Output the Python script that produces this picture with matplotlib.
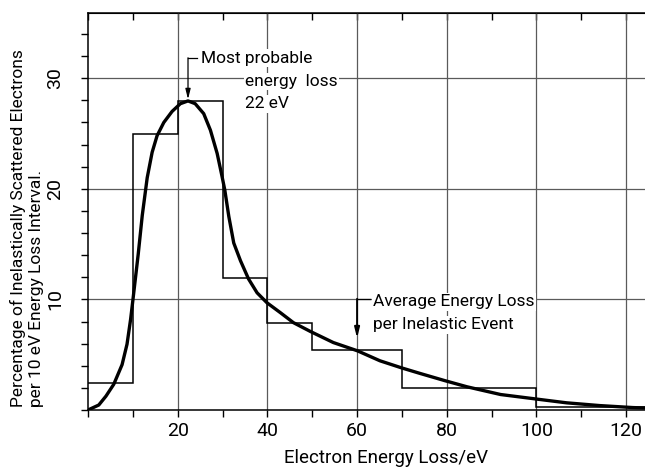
import matplotlib
matplotlib.use("Agg")
import matplotlib.pyplot as plt
from matplotlib.ticker import MultipleLocator, FixedLocator

plt.rcParams['font.family'] = ['Roboto', 'DejaVu Sans']

# histogram: percentage per 10 eV interval
bin_edges = [0, 10, 20, 30, 40, 50, 70, 100, 130]
bin_values = [2.4, 25.0, 27.9, 11.9, 7.9, 5.4, 2.0, 0.3]

# smooth curve
curve_x = [0, 2.4, 4.0, 5.75, 7.6, 8.7, 9.5, 10.0, 10.6, 11.2, 12.1, 13.2, 14.3, 15.4,
           16.9, 18.75, 20.6, 22.3, 23.9, 25.8, 27.3, 28.8, 29.9, 30.5, 31.4, 32.5,
           34.0, 35.8, 37.7, 39.9, 42.9, 45.8, 49.6, 54.7, 60.1, 65.1, 70.0, 74.1,
           79.6, 84.5, 92.0, 99.8, 106.7, 114.1, 121.5, 125.0]
curve_y = [0, 0.45, 1.25, 2.33, 4.1, 5.95, 8.2, 9.9, 12.0, 14.1, 17.6, 21.0, 23.3, 24.8,
           26.0, 27.0, 27.7, 27.95, 27.7, 26.8, 25.3, 23.2, 21.1, 19.9, 17.5, 15.1,
           13.5, 11.85, 10.6, 9.7, 8.8, 7.9, 7.1, 6.1, 5.35, 4.45, 3.8, 3.3,
           2.65, 2.1, 1.4, 1.0, 0.65, 0.4, 0.22, 0.17]

peak_x, peak_y = 22.3, 28.0
avg_x, avg_top, avg_tip = 60, 10.0, 6.5

fig = plt.figure(figsize=(6.45, 4.68), dpi=100)
ax = fig.add_axes([88 / 645, 1 - 410 / 468, 1 - 88 / 645, (410 - 13) / 468])

ax.stairs(bin_values, bin_edges, baseline=None, color='black', linewidth=1.1, zorder=3)
ax.plot(curve_x, curve_y, color='black', linewidth=2.4, solid_joinstyle='round',
        solid_capstyle='round', zorder=4)

ax.set_xlim(0, 124.2)
ax.set_ylim(0, 35.9)

ax.xaxis.set_major_locator(FixedLocator([20, 40, 60, 80, 100, 120]))
ax.xaxis.set_minor_locator(MultipleLocator(10))
ax.yaxis.set_major_locator(FixedLocator([10, 20, 30]))
ax.yaxis.set_minor_locator(MultipleLocator(2))
ax.tick_params(axis='both', which='both', direction='out', length=5, width=1)
ax.tick_params(axis='x', labelsize=14, pad=4)
ax.tick_params(axis='y', labelsize=14, pad=12, labelrotation=90)
for lab in ax.get_yticklabels():
    lab.set_va('center')

top = ax.secondary_xaxis('top')
top.xaxis.set_major_locator(MultipleLocator(10))
top.tick_params(direction='in', length=5, width=1, labeltop=False)

ax.spines['right'].set_visible(False)
for s in ['left', 'bottom', 'top']:
    ax.spines[s].set_linewidth(1.1)

ax.grid(True, which='major', color='#5a5a5a', linewidth=0.9, zorder=1)
ax.set_axisbelow(True)

# most probable energy loss annotation
ax.plot([peak_x, peak_x + 1.9], [31.8, 31.8], color='black', linewidth=0.9, zorder=5)
ax.annotate('', xy=(peak_x, peak_y + 0.1), xytext=(peak_x, 31.85),
            arrowprops=dict(arrowstyle='-|>,head_length=0.6,head_width=0.15',
                            color='black', linewidth=0.9, shrinkA=0, shrinkB=0), zorder=5)
ax.text(peak_x + 2.9, 31.8, 'Most probable', fontsize=12.5, va='center', ha='left',
        bbox=dict(fc='white', ec='none', pad=1), zorder=6)
ax.text(35.0, 29.7, 'energy  loss', fontsize=12.5, va='center', ha='left',
        bbox=dict(fc='white', ec='none', pad=1), zorder=6)
ax.text(35.0, 27.7, '22 eV', fontsize=12.5, va='center', ha='left',
        bbox=dict(fc='white', ec='none', pad=1), zorder=6)

# average energy loss annotation
ax.plot([avg_x, avg_x + 2.8], [avg_top, avg_top], color='black', linewidth=0.9, zorder=5)
ax.annotate('', xy=(avg_x, avg_tip), xytext=(avg_x, avg_top + 0.05),
            arrowprops=dict(arrowstyle='-|>,head_length=0.6,head_width=0.15',
                            color='black', linewidth=1.4, shrinkA=0, shrinkB=0), zorder=5)
ax.text(avg_x + 3.6, 9.8, 'Average Energy Loss', fontsize=12.5, va='center', ha='left',
        bbox=dict(fc='white', ec='none', pad=1), zorder=6)
ax.text(avg_x + 3.6, 7.7, 'per Inelastic Event', fontsize=12.5, va='center', ha='left',
        bbox=dict(fc='white', ec='none', pad=1), zorder=6)

fig.text(386 / 645, 1 - 458 / 468, 'Electron Energy Loss/eV', fontsize=13.5,
         ha='center', va='center')
fig.text(27 / 645, 1 - 407 / 468,
         'Percentage of Inelastically Scattered Electrons\nper 10 eV Energy Loss Interval.',
         fontsize=12.5, rotation=90, ha='center', va='bottom', multialignment='left',
         linespacing=1.25)

fig.savefig('out.png', dpi=100)
